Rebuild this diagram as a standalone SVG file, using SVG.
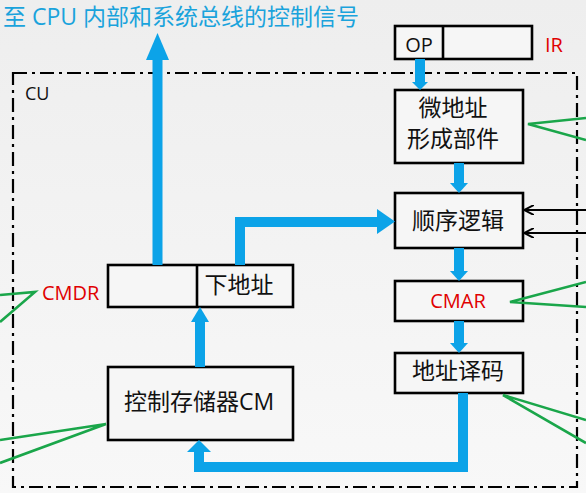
<svg xmlns="http://www.w3.org/2000/svg" width="586" height="493" viewBox="0 0 586 493">
<defs>
<linearGradient id="bg" x1="0" y1="0" x2="0" y2="1"><stop offset="0" stop-color="#eeeeee"/><stop offset="1" stop-color="#f8f8f8"/></linearGradient>
<marker id="bk" viewBox="0 0 10 10" refX="9" refY="5" markerWidth="5" markerHeight="5" orient="auto-start-reverse" markerUnits="strokeWidth"><path d="M10,5 L0,0 M10,5 L0,10" stroke="#000" stroke-width="2" fill="none"/></marker>
<style>
.box{fill:#f6f6f6;stroke:#000;stroke-width:2.6}
.cj{font-family:"Noto Sans CJK SC",sans-serif;font-size:23px;fill:#111}
.lat{font-family:"Open Sans","Noto Sans CJK SC",sans-serif;fill:#111}
.red{font-family:"Open Sans",sans-serif;fill:#e00000;font-size:20px}
.blue{stroke:#0ca3e8;stroke-width:10;fill:none}
.head{fill:#0ca3e8}
.green{stroke:#1aa64a;stroke-width:2.6;fill:none}
.blk{stroke:#000;stroke-width:2;fill:none}
</style>
</defs>
<rect x="0" y="0" width="586" height="493" fill="url(#bg)"/>
<text x="3" y="25" font-family="'Open Sans','Noto Sans CJK SC',sans-serif" font-size="23" fill="#1aa3dc">至 CPU 内部和系统总线的控制信号</text>
<g id="cu">
<rect x="13" y="73" width="564" height="414" fill="none" stroke="#000" stroke-width="2.2" stroke-dasharray="14 5 3 5"/>
<text x="25" y="100" class="lat" font-size="18">CU</text>
</g>
<g id="ir">
<rect x="395" y="26" width="137" height="33" class="box"/>
<line x1="443" y1="26" x2="443" y2="59" stroke="#000" stroke-width="2.6"/>
<text x="419" y="52" class="lat" font-size="20" text-anchor="middle">OP</text>
<text x="545" y="52" class="red">IR</text>
</g>
<g id="uaddr">
<rect x="395" y="90" width="128" height="73" class="box"/>
<text x="453" y="116" class="cj" text-anchor="middle">微地址</text>
<text x="453" y="147" class="cj" text-anchor="middle">形成部件</text>
</g>
<g id="seq">
<rect x="395" y="193" width="128" height="55" class="box"/>
<text x="458" y="229" class="cj" text-anchor="middle">顺序逻辑</text>
</g>
<g id="cmar">
<rect x="395" y="281" width="128" height="40" class="box"/>
<text x="458" y="308" class="red" text-anchor="middle">CMAR</text>
</g>
<g id="decode">
<rect x="395" y="353" width="128" height="40" class="box"/>
<text x="458" y="379" class="cj" text-anchor="middle">地址译码</text>
</g>
<g id="cmdr">
<rect x="108" y="265" width="185" height="42" class="box"/>
<line x1="197" y1="265" x2="197" y2="307" stroke="#000" stroke-width="2.6"/>
<text x="239" y="293" class="cj" text-anchor="middle">下地址</text>
<text x="42" y="300" class="red">CMDR</text>
</g>
<g id="cm">
<rect x="108" y="367" width="185" height="73" class="box"/>
<text x="199" y="410" class="lat" font-size="23" text-anchor="middle">控制存储器CM</text>
</g>
<g id="connectors">
<line x1="157.5" y1="265" x2="157.5" y2="59" class="blue"/>
<polygon points="146,60 169,60 157.5,33" class="head"/>
<line x1="420" y1="59" x2="420" y2="83" class="blue"/>
<polygon points="412,82 428,82 420,90" class="head"/>
<line x1="459" y1="163" x2="459" y2="184" class="blue" stroke-width="8"/>
<polygon points="450,183 468,183 459,193" class="head"/>
<line x1="459" y1="248" x2="459" y2="272" class="blue" stroke-width="8"/>
<polygon points="450,271 468,271 459,281" class="head"/>
<line x1="459" y1="321" x2="459" y2="344" class="blue" stroke-width="8"/>
<polygon points="450,343 468,343 459,353" class="head"/>
<polyline points="463,393 463,467 199,467 199,451" class="blue"/>
<polygon points="187,452 211,452 199,440" class="head"/>
<line x1="200" y1="367" x2="200" y2="321" class="blue"/>
<polygon points="191,322 209,322 200,307" class="head"/>
<polyline points="240,265 240,222 378,222" class="blue"/>
<polygon points="377,209 377,234 395,221.5" class="head"/>
<line x1="586" y1="210" x2="525" y2="210" class="blk" marker-end="url(#bk)"/>
<line x1="586" y1="233" x2="525" y2="233" class="blk" marker-end="url(#bk)"/>
<polyline points="586,118 528,124 586,140" class="green"/>
<polyline points="586,282 510,302 586,307" class="green"/>
<polyline points="586,420 503,395 586,443" class="green"/>
<polyline points="0,295 35,292 0,322" class="green"/>
<polyline points="0,440 106,424 0,463" class="green"/>
</g>
</svg>
